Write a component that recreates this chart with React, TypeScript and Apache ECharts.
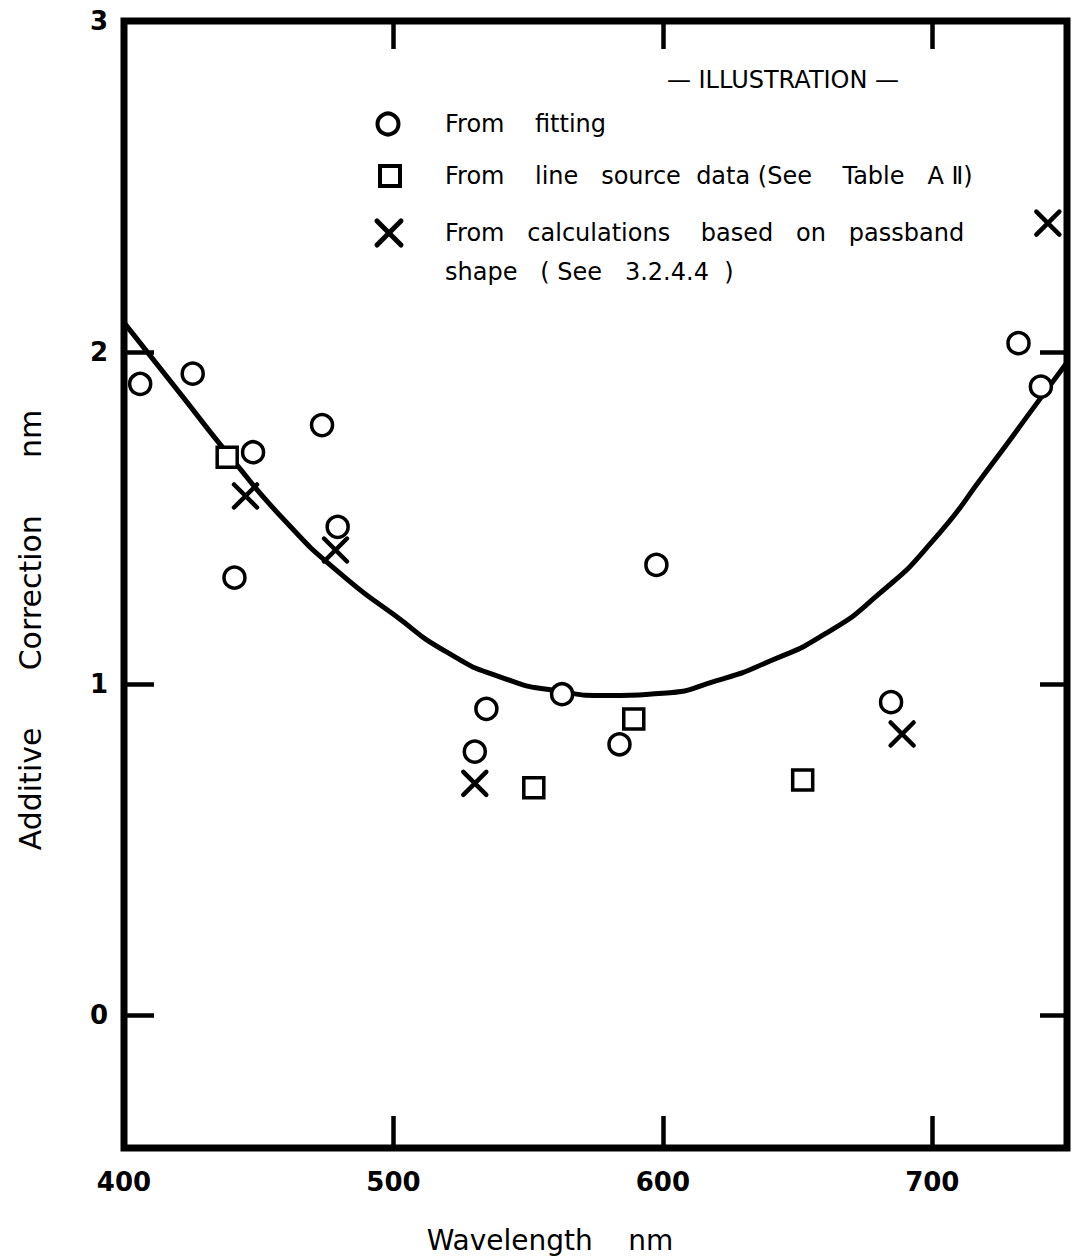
import React, { useEffect, useRef } from "react";
import * as echarts from "echarts";

// Axis ticks and labels
const xLabelValues = [400, 500, 600, 700];
const xTickValues = [500, 600, 700];
const yLabelValues = [0, 1, 2, 3];
const yTickValues = [0, 1, 2];

// Fitted curve
const fitX = [400, 420, 440, 460, 480, 500, 520, 540, 560, 580, 600, 620, 640, 660, 680, 700, 720, 740, 750];
const fitY = [2.09, 1.885, 1.68, 1.49, 1.335, 1.21, 1.095, 1.02, 0.98, 0.965, 0.972, 1.01, 1.07, 1.15, 1.27, 1.43, 1.64, 1.86, 1.97];

// From fitting (circles)
const fittingX = [406.0, 425.5, 441.0, 447.9, 473.5, 479.3, 530.2, 534.5, 562.6, 583.9, 597.6, 684.7, 732.0, 740.3];
const fittingY = [1.905, 1.936, 1.321, 1.699, 1.781, 1.474, 0.796, 0.925, 0.969, 0.818, 1.359, 0.945, 2.028, 1.897];

// From line source data (squares)
const lineSourceX = [438.3, 552.1, 589.2, 651.9];
const lineSourceY = [1.684, 0.687, 0.894, 0.71];

// From calculations based on passband shape (crosses)
const passbandX = [445.1, 478.5, 530.2, 688.8, 742.9];
const passbandY = [1.567, 1.404, 0.7, 0.849, 2.39];

const FONT = '"DejaVu Sans", "Noto Sans", sans-serif';

const zip = (xs: number[], ys: number[]) => xs.map((x, i) => [x, ys[i]]);

export default function App() {
  const ref = useRef<HTMLDivElement>(null);

  useEffect(() => {
    if (!ref.current) return;
    const chart = echarts.init(ref.current, null, { renderer: "svg" });

    const txt = (text: string, x: number, y: number, size: number, align = "left", rotation = 0, weight = "normal") => ({
      type: "text",
      x,
      y,
      rotation,
      z: 10,
      style: {
        text,
        fill: "#000",
        fontSize: size,
        fontWeight: weight,
        fontFamily: FONT,
        align,
        verticalAlign: "middle",
      },
    });

    const tickStyle = { color: "#000", width: 4.5 };

    const option: any = {
      animation: false,
      backgroundColor: "#fff",
      grid: {
        left: 124,
        right: 7,
        top: 21,
        bottom: 111,
        show: true,
        borderColor: "#000",
        borderWidth: 7,
        backgroundColor: "transparent",
      },
      xAxis: [
        {
          type: "value",
          min: 400,
          max: 750,
          interval: 100,
          position: "bottom",
          axisLine: { show: false, onZero: false },
          splitLine: { show: false },
          axisTick: { show: true, inside: true, length: 32, customValues: xTickValues, lineStyle: tickStyle },
          axisLabel: {
            customValues: xLabelValues,
            margin: 21,
            fontSize: 26,
            fontWeight: "bold",
            color: "#000",
            fontFamily: FONT,
          },
        },
        {
          type: "value",
          min: 400,
          max: 750,
          interval: 100,
          position: "top",
          axisLine: { show: false, onZero: false },
          splitLine: { show: false },
          axisTick: { show: true, inside: true, length: 28, customValues: xTickValues, lineStyle: tickStyle },
          axisLabel: { show: false },
        },
      ],
      yAxis: [
        {
          type: "value",
          min: -0.4,
          max: 3,
          position: "left",
          axisLine: { show: false, onZero: false },
          splitLine: { show: false },
          axisTick: { show: true, inside: true, length: 30, customValues: yTickValues, lineStyle: tickStyle },
          axisLabel: {
            customValues: yLabelValues,
            margin: 16,
            fontSize: 26,
            fontWeight: "bold",
            color: "#000",
            fontFamily: FONT,
          },
        },
        {
          type: "value",
          min: -0.4,
          max: 3,
          position: "right",
          axisLine: { show: false, onZero: false },
          splitLine: { show: false },
          axisTick: { show: true, inside: true, length: 27, customValues: yTickValues, lineStyle: tickStyle },
          axisLabel: { show: false },
        },
      ],
      series: [
        {
          name: "Fit",
          type: "line",
          xAxisIndex: 0,
          yAxisIndex: 0,
          data: zip(fitX, fitY),
          smooth: 0.6,
          showSymbol: false,
          symbol: "none",
          lineStyle: { color: "#000", width: 5 },
          z: 2,
        },
        {
          name: "From fitting",
          type: "scatter",
          data: zip(fittingX, fittingY),
          symbol: "circle",
          symbolSize: 21,
          itemStyle: { color: "#fff", borderColor: "#000", borderWidth: 3.5, opacity: 1 },
          z: 3,
        },
        {
          name: "From line source data (See Table A Ⅱ)",
          type: "scatter",
          data: zip(lineSourceX, lineSourceY),
          symbol: "rect",
          symbolSize: 20,
          itemStyle: { color: "#fff", borderColor: "#000", borderWidth: 3.5, opacity: 1 },
          z: 3,
        },
        {
          name: "From calculations based on passband shape (See 3.2.4.4)",
          type: "scatter",
          data: zip(passbandX, passbandY),
          symbol: "path://M0,0L10,10M10,0L0,10",
          symbolSize: 23,
          itemStyle: { color: "transparent", borderColor: "#000", borderWidth: 4.5, borderCap: "round", opacity: 1 },
          z: 3,
        },
      ],
      graphic: [
        txt("— ILLUSTRATION —", 783, 80, 24, "center"),
        {
          type: "circle",
          z: 10,
          shape: { cx: 388, cy: 124, r: 10.5 },
          style: { fill: "#fff", stroke: "#000", lineWidth: 4 },
        },
        {
          type: "rect",
          z: 10,
          shape: { x: 380, y: 166, width: 20, height: 20 },
          style: { fill: "#fff", stroke: "#000", lineWidth: 4 },
        },
        {
          type: "line",
          z: 10,
          shape: { x1: 377, y1: 221, x2: 401, y2: 245 },
          style: { stroke: "#000", lineWidth: 5, lineCap: "round" },
        },
        {
          type: "line",
          z: 10,
          shape: { x1: 401, y1: 221, x2: 377, y2: 245 },
          style: { stroke: "#000", lineWidth: 5, lineCap: "round" },
        },
        txt("From    fitting", 445, 124, 24),
        txt("From    line   source  data (See    Table   A Ⅱ)", 445, 176, 24),
        txt("From   calculations    based   on   passband", 445, 233, 24),
        txt("shape   ( See   3.2.4.4  )", 445, 272, 24),
        txt("Wavelength    nm", 550, 1240, 28, "center"),
        txt("Additive      Correction      nm", 30, 630, 30, "center", Math.PI / 2),
      ],
    };

    chart.setOption(option);
    return () => chart.dispose();
  }, []);

  return (
    <div
      ref={ref}
      style={{ position: "absolute", left: 0, top: 0, width: 1074, height: 1259, background: "#fff" }}
    />
  );
}
